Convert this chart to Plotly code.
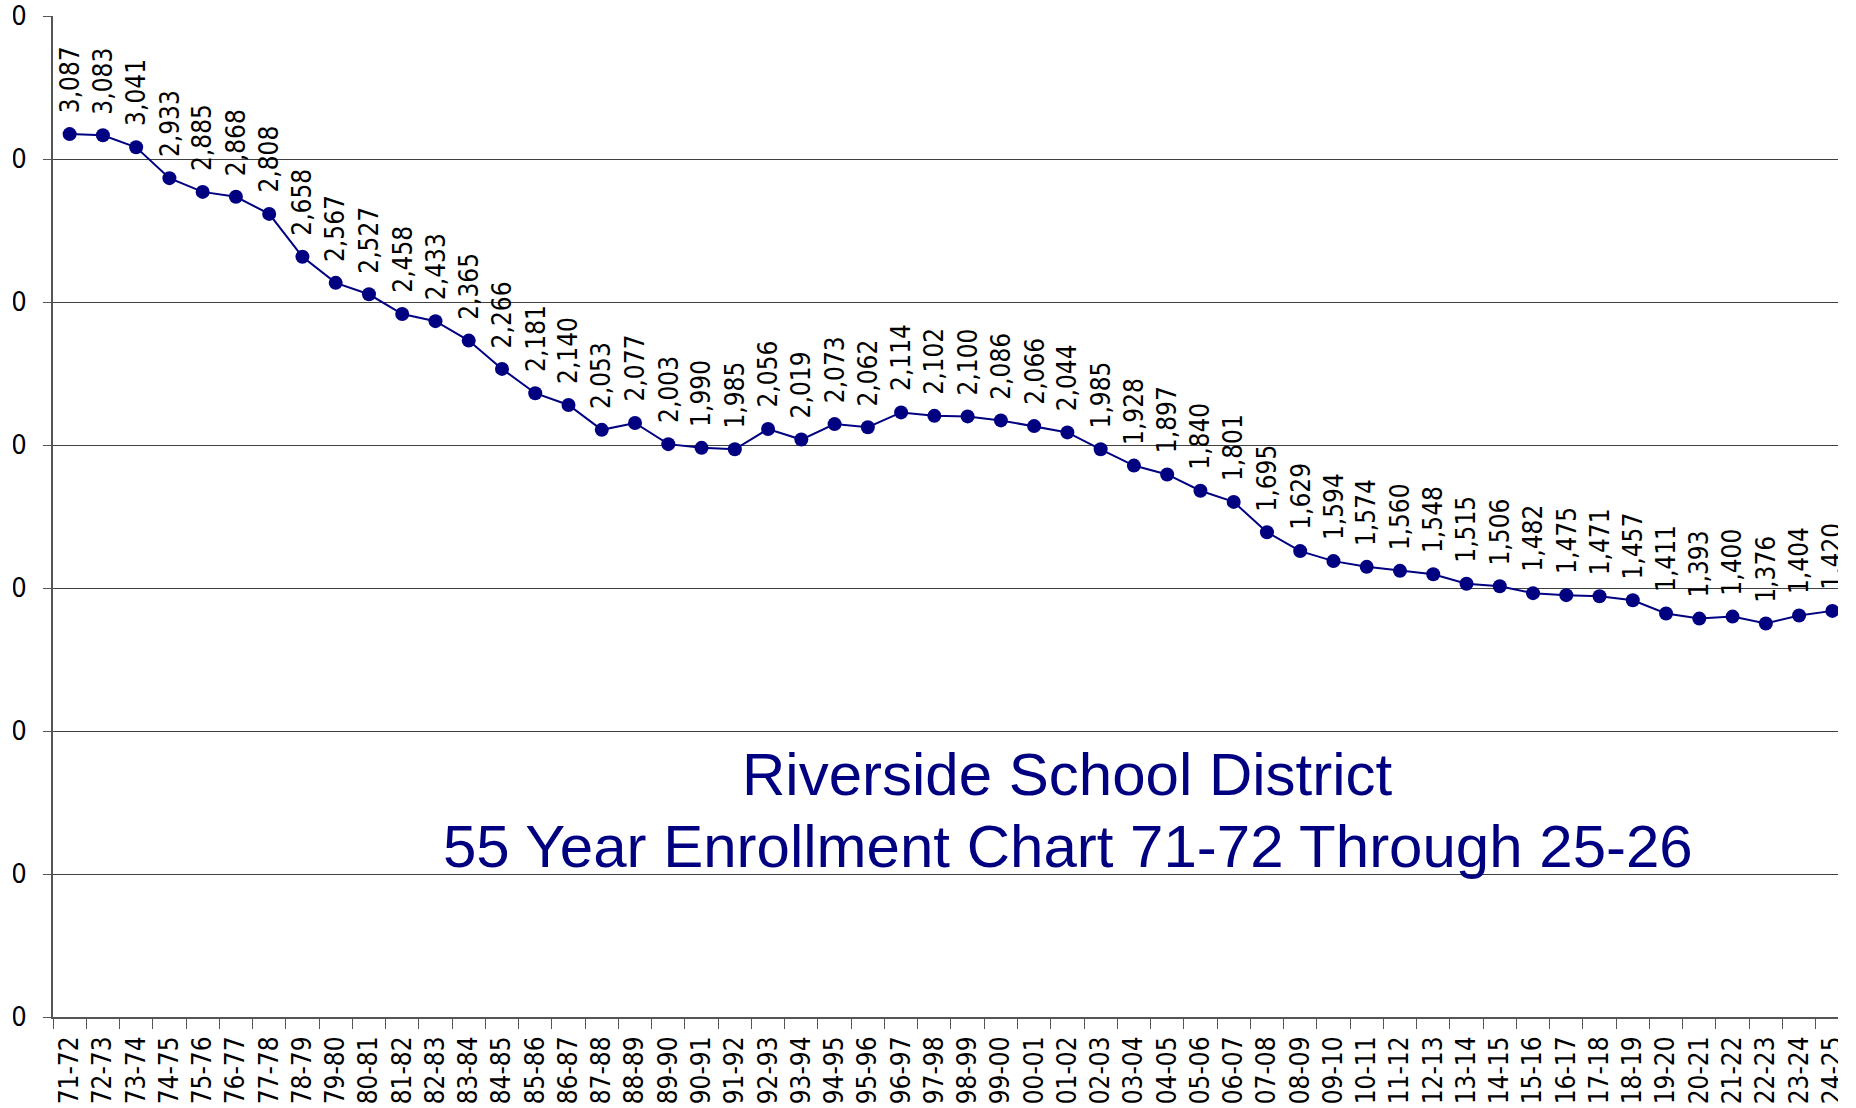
import plotly.graph_objects as go

years = ["71-72","72-73","73-74","74-75","75-76","76-77","77-78","78-79","79-80","80-81",
         "81-82","82-83","83-84","84-85","85-86","86-87","87-88","88-89","89-90","90-91",
         "91-92","92-93","93-94","94-95","95-96","96-97","97-98","98-99","99-00","00-01",
         "01-02","02-03","03-04","04-05","05-06","06-07","07-08","08-09","09-10","10-11",
         "11-12","12-13","13-14","14-15","15-16","16-17","17-18","18-19","19-20","20-21",
         "21-22","22-23","23-24","24-25"]
enrollment = [3087,3083,3041,2933,2885,2868,2808,2658,2567,2527,
              2458,2433,2365,2266,2181,2140,2053,2077,2003,1990,
              1985,2056,2019,2073,2062,2114,2102,2100,2086,2066,
              2044,1985,1928,1897,1840,1801,1695,1629,1594,1574,
              1560,1548,1515,1506,1482,1475,1471,1457,1411,1393,
              1400,1376,1404,1420]
y_ticks = [0, 500, 1000, 1500, 2000, 2500, 3000, 3500]
y_tick_text = ["0", "500", "1,000", "1,500", "2,000", "2,500", "3,000", "3,500"]
title_lines = ["Riverside School District", "55 Year Enrollment Chart 71-72 Through 25-26"]

NAVY = "#000080"
LABEL_FONT = "DejaVu Sans Condensed, DejaVu Sans, sans-serif"
TITLE_FONT = "Liberation Sans Narrow, Arial Narrow, Liberation Sans, Arial, sans-serif"

fig = go.Figure()
fig.add_trace(go.Scatter(
    x=years, y=enrollment, mode="lines+markers",
    line=dict(color=NAVY, width=2),
    marker=dict(color=NAVY, size=14),
    hoverinfo="x+y", showlegend=False, cliponaxis=True,
))

annotations = []
for yr, v in zip(years, enrollment):
    annotations.append(dict(
        x=yr, y=v, xref="x", yref="y", text=f"{v:,}", showarrow=False,
        textangle=-90, xanchor="center", yanchor="bottom", yshift=19,
        font=dict(family=LABEL_FONT, size=26, color="black"),
    ))

annotations.append(dict(
    x=0.5686, y=0.2420, xref="paper", yref="paper", text=title_lines[0],
    showarrow=False, xanchor="center", yanchor="middle",
    font=dict(family=TITLE_FONT, size=60, color=NAVY),
))
annotations.append(dict(
    x=0.5686, y=0.1700, xref="paper", yref="paper", text=title_lines[1],
    showarrow=False, xanchor="center", yanchor="middle",
    font=dict(family=TITLE_FONT, size=60, color=NAVY),
))

fig.update_layout(
    width=1825, height=1108,
    margin=dict(l=40, r=0, t=16, b=91, pad=0, autoexpand=False),
    paper_bgcolor="white", plot_bgcolor="white",
    annotations=annotations,
    xaxis=dict(
        type="category", range=[-0.5, 53.17], automargin=False,
        tickmode="array", tickvals=years, ticktext=years,
        tickson="boundaries", ticks="outside", ticklen=10, tickwidth=1, tickcolor="#555555",
        tickangle=-90, ticklabelstandoff=7,
        tickfont=dict(family=LABEL_FONT, size=26, color="black"),
        showline=True, linecolor="#555555", linewidth=2, showgrid=False, zeroline=False,
    ),
    yaxis=dict(
        range=[0, 3500], tickvals=y_ticks, ticktext=y_tick_text, automargin=False,
        ticks="outside", ticklen=8, tickwidth=1, tickcolor="#555555",
        ticklabelstandoff=11,
        tickfont=dict(family=LABEL_FONT, size=27, color="black"),
        showline=True, linecolor="#555555", linewidth=2,
        showgrid=True, gridcolor="#404040", gridwidth=1, zeroline=False,
    ),
)

fig.write_html("out.html", config={"displayModeBar": False},
               post_script="document.body.style.margin='0 0 0 13px';")
